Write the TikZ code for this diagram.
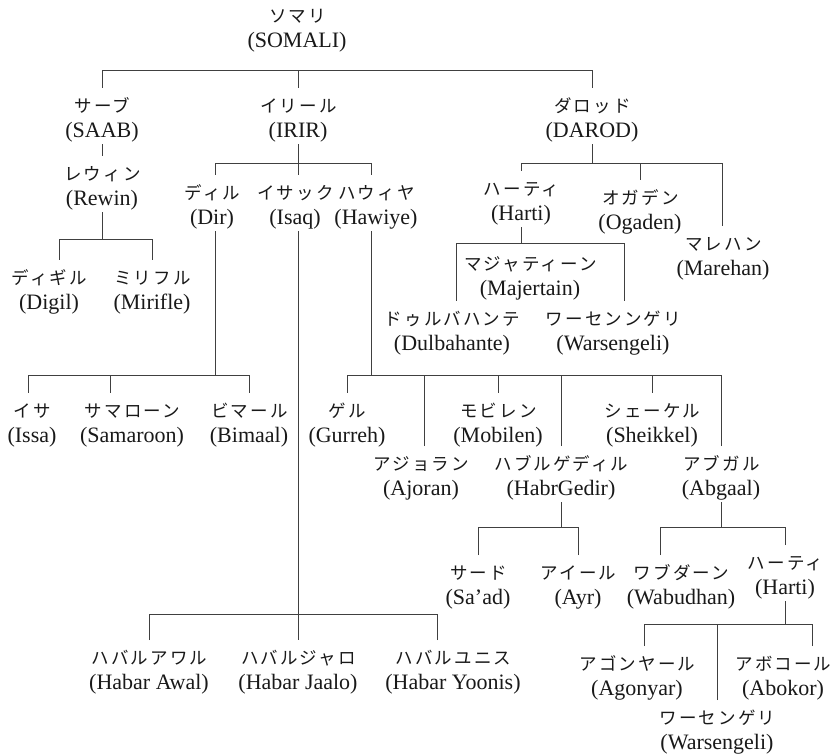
\documentclass[tikz,border=0pt]{standalone}
\usepackage{fontspec}
\setmainfont{Liberation Serif}
\newfontfamily\jpfont[LetterSpace=12]{Noto Sans CJK JP}
\newcommand\clanlabel[2]{\rule{0pt}{24pt}{\fontsize{17.5}{25}\selectfont\jpfont #1\kern-1pt}\\\rule[-7pt]{0pt}{7pt}(#2)}
\begin{document}
\begin{tikzpicture}[x=1pt,y=-1pt,
  clan/.style={anchor=north, align=center, inner xsep=1pt, inner ysep=0pt,
    text=black!90, font=\fontsize{22}{25}\selectfont},
  link/.style={line width=0.8pt, draw=black!75}]
\useasboundingbox (0,0) rectangle (839,754);
\fill[white] (0,0) rectangle (839,754);

% nodes
\node[clan] (somali) at (297,-2) {\clanlabel{ソマリ}{SOMALI}};
\node[clan] (saab) at (102,88) {\clanlabel{サーブ}{SAAB}};
\node[clan] (irir) at (298,88) {\clanlabel{イリール}{IRIR}};
\node[clan] (darod) at (592,88) {\clanlabel{ダロッド}{DAROD}};
\node[clan] (rewin) at (102,156) {\clanlabel{レウィン}{Rewin}};
\node[clan] (digil) at (49,260) {\clanlabel{ディギル}{Digil}};
\node[clan] (mirifle) at (152,260) {\clanlabel{ミリフル}{Mirifle}};
\node[clan] (dir) at (212,175) {\clanlabel{ディル}{Dir}};
\node[clan] (isaq) at (295,175) {\clanlabel{イサック}{Isaq}};
\node[clan] (hawiye) at (376,175) {\clanlabel{ハウィヤ}{Hawiye}};
\node[clan] (issa) at (32,393) {\clanlabel{イサ}{Issa}};
\node[clan] (samaroon) at (132,393) {\clanlabel{サマローン}{Samaroon}};
\node[clan] (bimaal) at (249,393) {\clanlabel{ビマール}{Bimaal}};
\node[clan] (awal) at (149,640) {\clanlabel{ハバルアワル}{Habar Awal}};
\node[clan] (jaalo) at (298,640) {\clanlabel{ハバルジャロ}{Habar Jaalo}};
\node[clan] (yoonis) at (453,640) {\clanlabel{ハバルユニス}{Habar Yoonis}};
\node[clan] (gurreh) at (347,393) {\clanlabel{ゲル}{Gurreh}};
\node[clan] (ajoran) at (421,446) {\clanlabel{アジョラン}{Ajoran}};
\node[clan] (mobilen) at (498,393) {\clanlabel{モビレン}{Mobilen}};
\node[clan] (habrgedir) at (561,446) {\clanlabel{ハブルゲディル}{HabrGedir}};
\node[clan] (sheikkel) at (652,393) {\clanlabel{シェーケル}{Sheikkel}};
\node[clan] (abgaal) at (721,446) {\clanlabel{アブガル}{Abgaal}};
\node[clan] (saad) at (478,555) {\clanlabel{サード}{Sa’ad}};
\node[clan] (ayr) at (578,555) {\clanlabel{アイール}{Ayr}};
\node[clan] (wabudhan) at (681,555) {\clanlabel{ワブダーン}{Wabudhan}};
\node[clan] (harti2) at (785,545) {\clanlabel{ハーティ}{Harti}};
\node[clan] (agonyar) at (637,646) {\clanlabel{アゴンヤール}{Agonyar}};
\node[clan] (warsengeli2) at (717,700) {\clanlabel{ワーセンゲリ}{Warsengeli}};
\node[clan] (abokor) at (783,646) {\clanlabel{アボコール}{Abokor}};
\node[clan] (harti) at (521,171) {\clanlabel{ハーティ}{Harti}};
\node[clan] (ogaden) at (640,180) {\clanlabel{オガデン}{Ogaden}};
\node[clan] (marehan) at (723,226) {\clanlabel{マレハン}{Marehan}};
\node[clan] (majertain) at (530,246) {\clanlabel{マジャティーン}{Majertain}};
\node[clan] (dulbahante) at (452,301) {\clanlabel{ドゥルバハンテ}{Dulbahante}};
\node[clan] (warsengeli) at (613,301) {\clanlabel{ワーセンンゲリ}{Warsengeli}};

% junctions
\coordinate (somalibar) at (298,70);
\coordinate (rewinbar) at (102,239);
\coordinate (irirbar) at (298,163);
\coordinate (dirbar) at (215,375);
\coordinate (isaqbar) at (298,614);
\coordinate (hawiyebar) at (371,375);
\coordinate (gedirbar) at (561,527);
\coordinate (abgaalbar) at (721,527);
\coordinate (harti2bar) at (785,624);
\coordinate (darodbar) at (592,163);
\coordinate (hartibar) at (521,243);

% connectors
\draw[link] (saab.north) |- (somalibar);
\draw[link] (irir.north) -- (somalibar);
\draw[link] (darod.north) |- (somalibar);

\draw[link] (saab.south) -- (rewin.north);
\draw[link] (rewin.south) -- (rewinbar);
\draw[link] ([xshift=10pt]digil.north) |- (rewinbar);
\draw[link] (mirifle.north) |- (rewinbar);

\draw[link] (irir.south) -- (irirbar);
\draw[link] ([xshift=3pt]dir.north) |- (irirbar);
\draw[link] ([xshift=3pt]isaq.north) -- (irirbar);
\draw[link] ([xshift=-5pt]hawiye.north) |- (irirbar);

\draw[link] ([xshift=3pt]dir.south) -- (dirbar);
\draw[link] ([xshift=-4pt]issa.north) |- (dirbar);
\draw[link] ([xshift=-22pt]samaroon.north) |- (dirbar);
\draw[link] (bimaal.north) |- (dirbar);

\draw[link] ([xshift=3pt]isaq.south) -- (jaalo.north);
\draw[link] (awal.north) |- (isaqbar);
\draw[link] ([xshift=-16pt]yoonis.north) |- (isaqbar);

\draw[link] ([xshift=-5pt]hawiye.south) -- (hawiyebar);
\draw[link] (gurreh.north) |- (hawiyebar);
\draw[link] ([xshift=3pt]ajoran.north) |- (hawiyebar);
\draw[link] (mobilen.north) |- (hawiyebar);
\draw[link] (habrgedir.north) |- (hawiyebar);
\draw[link] (sheikkel.north) |- (hawiyebar);
\draw[link] (abgaal.north) |- (hawiyebar);

\draw[link] (habrgedir.south) -- (gedirbar);
\draw[link] (saad.north) |- (gedirbar);
\draw[link] (ayr.north) |- (gedirbar);

\draw[link] (abgaal.south) -- (abgaalbar);
\draw[link] ([xshift=-21pt]wabudhan.north) |- (abgaalbar);
\draw[link] (harti2.north) |- (abgaalbar);

\draw[link] (harti2.south) -- (harti2bar);
\draw[link] ([xshift=7pt]agonyar.north) |- (harti2bar);
\draw[link] (warsengeli2.north) |- (harti2bar);
\draw[link] ([xshift=29pt]abokor.north) |- (harti2bar);

\draw[link] (darod.south) -- (darodbar);
\draw[link] (harti.north) |- (darodbar);
\draw[link] (ogaden.north) |- (darodbar);
\draw[link] ([xshift=-1pt]marehan.north) |- (darodbar);

\draw[link] (harti.south) -- (hartibar);
\draw[link] ([xshift=4pt]dulbahante.north) |- (hartibar);
\draw[link] ([xshift=11pt]warsengeli.north) |- (hartibar);
\end{tikzpicture}
\end{document}
